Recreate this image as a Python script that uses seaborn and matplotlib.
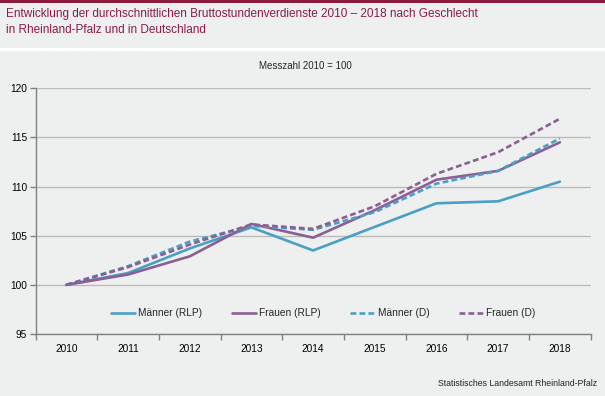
import numpy as np
import pandas as pd
import matplotlib.pyplot as plt
import seaborn as sns
from matplotlib.patches import Rectangle
from matplotlib.ticker import FixedLocator

years = [2010, 2011, 2012, 2013, 2014, 2015, 2016, 2017, 2018]
maenner_rlp = [100, 101.2, 103.7, 105.85, 103.5, 105.9, 108.3, 108.5, 110.5]
frauen_rlp = [100, 101.05, 102.9, 106.2, 104.8, 107.6, 110.7, 111.6, 114.5]
maenner_d = [100, 101.9, 104.4, 106.0, 105.6, 107.4, 110.3, 111.6, 114.9]
frauen_d = [100, 101.8, 104.1, 106.15, 105.7, 108.0, 111.3, 113.5, 116.9]
series_names = ['Männer (RLP)', 'Frauen (RLP)', 'Männer (D)', 'Frauen (D)']

blue = '#4A9FC6'
purple = '#8C5F94'
bg = '#EEF0EF'

df = pd.DataFrame({
    'Jahr': years * 4,
    'Wert': maenner_rlp + frauen_rlp + maenner_d + frauen_d,
    'Reihe': [n for n in series_names for _ in years],
})

sns.set_style('white')
plt.rcParams['font.family'] = ['Liberation Sans', 'DejaVu Sans']

fig = plt.figure(figsize=(6.05, 3.96), dpi=100, facecolor=bg)
# top band and white separator
fig.patches.append(Rectangle((0, 1 - 3 / 396), 1, 3 / 396, transform=fig.transFigure,
                             facecolor='#8B1A3C', edgecolor='none', zorder=0))
fig.patches.append(Rectangle((0, 1 - 51 / 396), 1, 3 / 396, transform=fig.transFigure,
                             facecolor='white', edgecolor='none', zorder=0))

ax = fig.add_axes([35.5 / 605, 1 - 334 / 396, (590.7 - 35.5) / 605, (334 - 88.3) / 396])
ax.set_facecolor(bg)

palette = {'Männer (RLP)': blue, 'Frauen (RLP)': purple, 'Männer (D)': blue, 'Frauen (D)': purple}
dashes = {'Männer (RLP)': '', 'Frauen (RLP)': '', 'Männer (D)': (2.2, 1.2), 'Frauen (D)': (2.2, 1.2)}
sns.lineplot(data=df, x='Jahr', y='Wert', hue='Reihe', style='Reihe', hue_order=series_names,
             style_order=series_names, palette=palette, dashes=dashes, linewidth=1.9, ax=ax)

ax.set_xlim(years[0] - 0.5, years[-1] + 0.5)
ax.set_ylim(95, 120)
ax.set_yticks([95, 100, 105, 110, 115, 120])
ax.set_xticks(years)
ax.set_xticklabels([str(y) for y in years])
ax.xaxis.set_minor_locator(FixedLocator([y + 0.5 for y in [years[0] - 1] + years]))
ax.tick_params(axis='x', which='major', length=0, pad=7, labelsize=7.3, labelcolor='black')
ax.tick_params(axis='x', which='minor', bottom=True, length=4, width=1, color='#808080')
ax.tick_params(axis='y', left=True, length=4, width=1, color='#808080', pad=2,
               labelsize=7.3, labelcolor='black')
ax.grid(axis='y', color='#BBBBBB', linewidth=1)
ax.set_xlabel('')
ax.set_ylabel('')
for side in ['top', 'right']:
    ax.spines[side].set_visible(False)
for side in ['left', 'bottom']:
    ax.spines[side].set_color('#808080')
    ax.spines[side].set_linewidth(1)

ax.legend(loc='center', bbox_to_anchor=(0.518, 0.085), ncol=4, frameon=False, fontsize=7.3,
          handlelength=2.4, handletextpad=0.3, columnspacing=2.9)

fig.text(6 / 605, 1 - 8.5 / 396, 'Entwicklung der durchschnittlichen Bruttostundenverdienste 2010 – 2018 nach Geschlecht\nin Rheinland-Pfalz und in Deutschland',
         fontsize=8.5, color='#8B1A4A', va='top', ha='left', linespacing=1.4)
fig.text(305 / 605, 1 - 66 / 396, 'Messzahl 2010 = 100', fontsize=7, ha='center', va='center')
fig.text(597 / 605, 1 - 384 / 396, 'Statistisches Landesamt Rheinland-Pfalz', fontsize=6.3,
         ha='right', va='center', color='#222222')

plt.savefig('out.png', dpi=100, facecolor=bg)
